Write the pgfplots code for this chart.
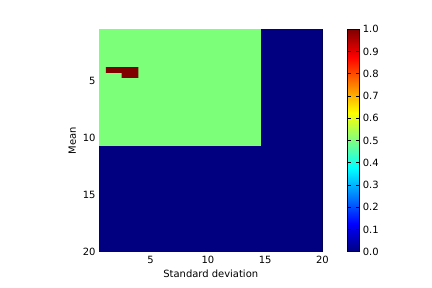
\documentclass[border=0pt]{standalone}
\usepackage{pgfplots}
\pgfplotsset{compat=1.18}
\usepackage{fontspec}
\setmainfont{DejaVu Sans}
\definecolor{jetlow}{RGB}{0,0,128}
\definecolor{jetmid}{RGB}{124,255,121}
\definecolor{jethigh}{RGB}{128,0,0}
\begin{document}
\begin{tikzpicture}[x=1bp,y=1bp]
\path[use as bounding box] (0,0) rectangle (432,288);
\begin{axis}[
  at={(99bp,36.3bp)}, anchor=south west,
  scale only axis, width=223.5bp, height=222.5bp,
  xmin=0.5, xmax=20, ymin=0.5, ymax=20,
  y dir=reverse,
  xtick={5,10,15,20}, ytick={5,10,15,20},
  tick align=inside, major tick length=4bp,
  tick style={black, line width=0.5pt},
  axis line style={black, line width=0.8pt},
  font=\fontsize{10}{12}\selectfont,
  /pgf/number format/assume math mode=true,
  xlabel={Standard deviation}, ylabel={Mean},
  xticklabel style={yshift=-1bp},
  xlabel style={yshift=1bp},
  colormap/jet,
  point meta min=0, point meta max=1,
  colorbar,
  colorbar style={
    at={(parent axis.north east)}, anchor=north west, xshift=16.6bp,
    scale only axis, width=11.7bp, height=222.5bp,
    ytick={0,0.1,...,1.0},
    yticklabel style={/pgf/number format/.cd, fixed, fixed zerofill, precision=1, assume math mode=true},
    font=\fontsize{10}{12}\selectfont,
    tick align=inside, major tick length=3bp,
    axis line style={black, line width=0.8pt},
  },
]
\addplot[fill=jetlow, draw=none] coordinates {(0.5,0.5) (20,0.5) (20,20) (0.5,20)} --cycle;
\addplot[fill=jetmid, draw=none] coordinates {(0.5,0.5) (14.65,0.5) (14.65,10.7) (0.5,10.7)} --cycle;
\addplot[fill=jethigh, draw=none] coordinates {(1.09,3.83) (3.93,3.83) (3.93,4.77) (2.48,4.77) (2.48,4.33) (1.09,4.33)} --cycle;
\end{axis}
\end{tikzpicture}
\end{document}
